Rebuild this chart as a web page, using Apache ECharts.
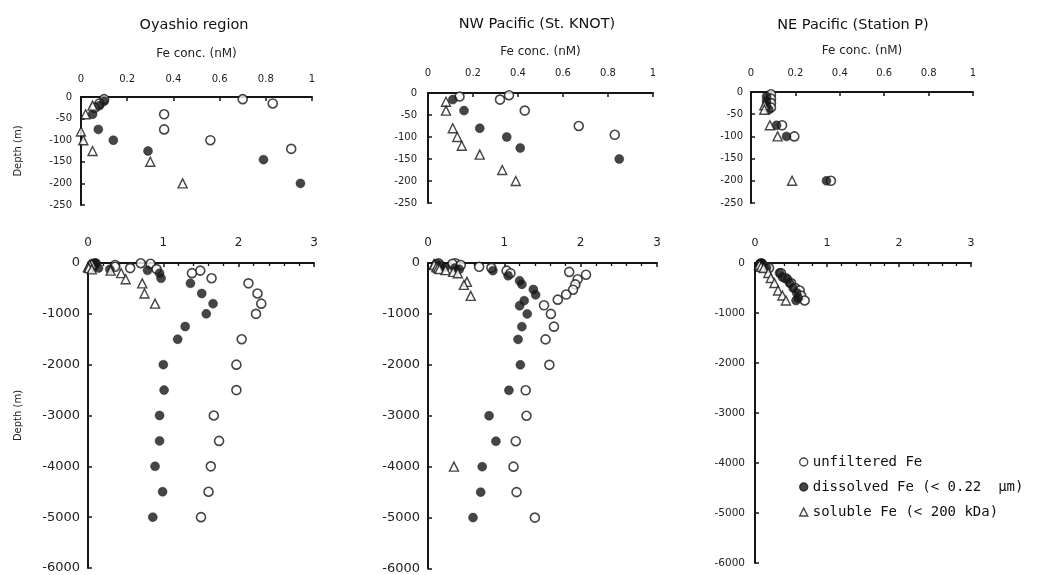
<!DOCTYPE html>
<html><head><meta charset="utf-8">
<script src="https://cdn.jsdelivr.net/npm/echarts@6/dist/echarts.min.js"></script>
<style>html,body{margin:0;padding:0;background:#fff}#c{width:1037px;height:575px}</style>
</head><body><div id="c"></div>
<script>
const panelTitles = ['Oyashio region', 'NW Pacific (St. KNOT)', 'NE Pacific (Station P)'];
const seriesNames = ['unfiltered Fe', 'dissolved Fe (< 0.22  μm)', 'soluble Fe (< 200 kDa)'];
const xAxisName = 'Fe conc. (nM)';
const yAxisName = 'Depth (m)';

// [Fe conc. (nM), depth (m)]
const oyaUnfiltered = [[0.10,-5],[0.08,-15],[0.06,-25],[0.70,-5],[0.83,-15],[0.36,-40],[0.36,-75],[0.56,-100],[0.91,-120],
  [1.49,-150],[1.38,-200],[1.64,-300],[2.13,-400],[2.25,-600],[2.30,-800],[2.23,-1000],[2.04,-1500],[1.97,-2000],
  [1.97,-2500],[1.67,-3000],[1.74,-3500],[1.63,-4000],[1.60,-4500],[1.50,-5000]];
const oyaDissolved = [[0.10,-10],[0.08,-20],[0.05,-40],[0.075,-75],[0.14,-100],[0.29,-125],[0.79,-145],[0.95,-200],
  [0.97,-300],[1.36,-400],[1.51,-600],[1.66,-800],[1.57,-1000],[1.29,-1250],[1.19,-1500],[1.00,-2000],[1.01,-2500],
  [0.95,-3000],[0.95,-3500],[0.89,-4000],[0.99,-4500],[0.86,-5000]];
const oyaSoluble = [[0.05,-20],[0.02,-40],[0.0,-80],[0.01,-100],[0.05,-125],[0.30,-150],[0.44,-200],
  [0.50,-320],[0.72,-400],[0.75,-600],[0.89,-800]];

const knotUnfiltered = [[0.14,-8],[0.36,-5],[0.32,-15],[0.43,-40],[0.67,-75],[0.83,-95],[1.03,-150],[1.08,-200],
  [1.85,-175],[2.07,-230],[1.96,-320],[1.93,-420],[1.90,-525],[1.81,-620],[1.70,-720],[1.52,-830],[1.61,-1000],
  [1.65,-1250],[1.54,-1500],[1.59,-2000],[1.28,-2500],[1.29,-3000],[1.15,-3500],[1.12,-4000],[1.16,-4500],[1.40,-5000]];
const knotDissolved = [[0.11,-15],[0.16,-40],[0.23,-80],[0.35,-100],[0.41,-125],[0.85,-150],[1.05,-250],[1.20,-350],
  [1.23,-420],[1.38,-520],[1.41,-625],[1.26,-740],[1.20,-840],[1.30,-1000],[1.23,-1250],[1.18,-1500],[1.21,-2000],
  [1.06,-2500],[0.80,-3000],[0.89,-3500],[0.71,-4000],[0.69,-4500],[0.59,-5000]];
const knotSoluble = [[0.08,-20],[0.08,-40],[0.11,-80],[0.13,-100],[0.15,-120],[0.23,-140],[0.33,-175],[0.39,-200],
  [0.51,-370],[0.47,-430],[0.56,-645],[0.34,-4000]];

const stpUnfiltered = [[0.09,-5],[0.09,-15],[0.09,-25],[0.09,-35],[0.14,-75],[0.195,-100],[0.36,-200],[0.42,-300],
  [0.50,-400],[0.56,-500],[0.62,-550],[0.64,-650],[0.69,-750]];
const stpDissolved = [[0.07,-10],[0.07,-20],[0.07,-30],[0.08,-40],[0.115,-75],[0.16,-100],[0.34,-200],[0.38,-280],
  [0.45,-320],[0.48,-400],[0.53,-500],[0.58,-600],[0.60,-700],[0.57,-750]];
const stpSoluble = [[0.06,-30],[0.06,-40],[0.085,-75],[0.12,-100],[0.185,-200],[0.22,-300],[0.27,-400],[0.32,-550],
  [0.38,-650],[0.43,-750]];

const stations = [
  [oyaUnfiltered, oyaDissolved, oyaSoluble],
  [knotUnfiltered, knotDissolved, knotSoluble],
  [stpUnfiltered, stpDissolved, stpSoluble]
];

const FONT = 'DejaVu Sans';
const INK = '#161616';
const grids = [
  {left: 81, top: 97, width: 231, height: 108},
  {left: 428, top: 93, width: 225, height: 110},
  {left: 751, top: 92, width: 222, height: 111},
  {left: 88, top: 263, width: 226, height: 305},
  {left: 428, top: 263, width: 229, height: 307},
  {left: 755, top: 263, width: 216, height: 300}
];
const xLabelMargin = [13, 15, 14, 14, 14, 14];
const xLabelSize = [10, 10, 10, 12, 12, 11];
const yLabelSize = [10, 10, 10, 13, 13, 10.5];
const yLabelMargin = [9, 11, 8, 8, 8, 10];
const xNameGap = [37, 35, 35];

const xAxes = [], yAxes = [], series = [];
for (let p = 0; p < 6; p++) {
  const top = p < 3;
  const axisLine = {show: true, onZero: false, lineStyle: {color: INK, width: 2}};
  const axisTick = {show: true, inside: true, length: 4, lineStyle: {color: INK, width: 1.5}};
  const x = {
    type: 'value', gridIndex: p, position: 'top', min: 0, max: top ? 1 : 3, interval: top ? 0.2 : 1,
    axisLine, axisTick, splitLine: {show: false},
    axisLabel: {color: '#222', fontFamily: FONT, fontSize: xLabelSize[p], margin: xLabelMargin[p],
                formatter: v => String(v)}
  };
  if (top) {
    x.name = xAxisName; x.nameLocation = 'middle'; x.nameGap = xNameGap[p];
    x.nameTextStyle = {color: '#222', fontFamily: FONT, fontSize: 12};
  } else {
    x.minorTick = {show: true, splitNumber: 5, length: 3, lineStyle: {color: INK, width: 1.3}};
  }
  xAxes.push(x);
  const y = {
    type: 'value', gridIndex: p, position: 'left', min: top ? -250 : -6000, max: 0, interval: top ? 50 : 1000,
    axisLine, axisTick, splitLine: {show: false},
    axisLabel: {color: '#222', fontFamily: FONT, fontSize: yLabelSize[p], margin: yLabelMargin[p],
                formatter: v => String(v)}
  };
  if (p === 0 || p === 3) {
    y.name = yAxisName; y.nameLocation = 'middle'; y.nameGap = p === 0 ? 58 : 65;
    y.nameTextStyle = {color: '#222', fontFamily: FONT, fontSize: 10};
  }
  yAxes.push(y);

  const data = stations[p % 3];
  const styles = [
    {symbol: 'circle', symbolSize: 9, itemStyle: {color: '#fff', borderColor: INK, borderWidth: 1.6}},
    {symbol: 'circle', symbolSize: 9, itemStyle: {color: INK, borderColor: INK, borderWidth: 0.5}},
    {symbol: 'triangle', symbolSize: 9, itemStyle: {color: '#fff', borderColor: INK, borderWidth: 1.4}}
  ];
  for (let k = 0; k < 3; k++) {
    series.push(Object.assign({
      type: 'scatter', name: seriesNames[k], xAxisIndex: p, yAxisIndex: p, data: data[k],
      clip: true, emphasis: {disabled: true}, silent: true, z: 2 + k
    }, styles[k]));
  }
}

const titlePos = [[194, 25], [537, 24], [853, 25]];
const graphic = panelTitles.map((t, i) => ({
  type: 'text', x: titlePos[i][0], y: titlePos[i][1],
  style: {text: t, font: '14.5px "' + FONT + '"', fill: '#111', textAlign: 'center', align: 'center',
          textVerticalAlign: 'middle', verticalAlign: 'middle'}
}));

const chart = echarts.init(document.getElementById('c'));
chart.setOption({
  animation: false,
  backgroundColor: '#fff',
  grid: grids,
  xAxis: xAxes,
  yAxis: yAxes,
  series,
  graphic,
  legend: {
    orient: 'vertical', left: 794, top: 449, itemWidth: 8, itemHeight: 8, itemGap: 9,
    selectedMode: false, data: seriesNames,
    itemStyle: {borderWidth: 1.4},
    textStyle: {fontSize: 14, fontFamily: 'DejaVu Sans Mono', color: '#111', lineHeight: 16}
  }
});
</script></body></html>
